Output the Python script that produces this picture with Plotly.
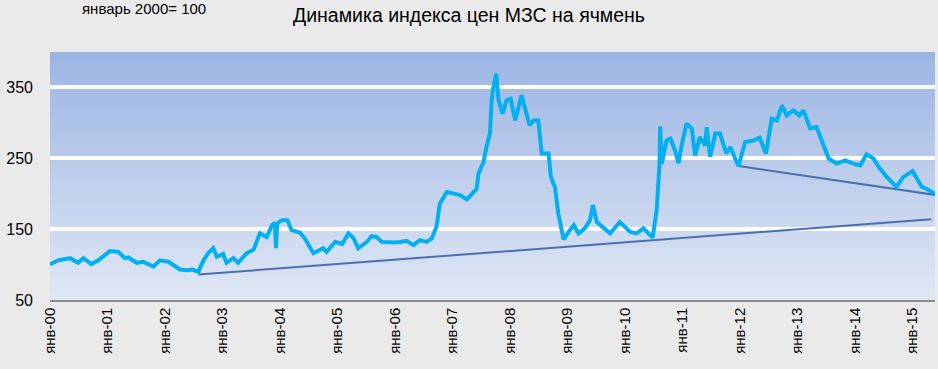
import plotly.graph_objects as go

# Price index (Jan 2000 = 100), time as decimal years
years = [2000.00, 2000.14, 2000.35, 2000.49, 2000.58, 2000.72, 2000.84, 2001.04, 2001.19, 2001.30,
         2001.36, 2001.51, 2001.62, 2001.80, 2001.91, 2002.06, 2002.26, 2002.38, 2002.47, 2002.58,
         2002.67, 2002.75, 2002.84, 2002.90, 2003.01, 2003.07, 2003.19, 2003.27, 2003.42, 2003.54,
         2003.65, 2003.77, 2003.86, 2003.91, 2003.93, 2003.95, 2004.03, 2004.13, 2004.20, 2004.35,
         2004.43, 2004.58, 2004.75, 2004.81, 2004.96, 2005.08, 2005.19, 2005.28, 2005.36, 2005.51,
         2005.59, 2005.68, 2005.77, 2005.97, 2006.09, 2006.20, 2006.32, 2006.43, 2006.55, 2006.64,
         2006.72, 2006.78, 2006.90, 2007.01, 2007.13, 2007.25, 2007.33, 2007.42, 2007.45, 2007.54,
         2007.59, 2007.65, 2007.68, 2007.71, 2007.76, 2007.80, 2007.87, 2007.94, 2008.01, 2008.09,
         2008.20, 2008.26, 2008.34, 2008.41, 2008.49, 2008.55, 2008.67, 2008.71, 2008.78, 2008.84,
         2008.93, 2009.04, 2009.11, 2009.19, 2009.30, 2009.39, 2009.44, 2009.51, 2009.62, 2009.74,
         2009.91, 2010.09, 2010.20, 2010.32, 2010.48, 2010.55, 2010.60, 2010.61, 2010.64, 2010.72,
         2010.79, 2010.87, 2010.93, 2010.99, 2011.07, 2011.16, 2011.22, 2011.30, 2011.39, 2011.42,
         2011.48, 2011.57, 2011.65, 2011.76, 2011.83, 2011.97, 2012.09, 2012.23, 2012.34, 2012.45,
         2012.55, 2012.64, 2012.73, 2012.81, 2012.93, 2013.03, 2013.10, 2013.22, 2013.33, 2013.42,
         2013.54, 2013.68, 2013.83, 2013.97, 2014.09, 2014.20, 2014.32, 2014.41, 2014.55, 2014.72,
         2014.84, 2015.00, 2015.16, 2015.24, 2015.36, 2015.39]
index = [100, 106, 109, 102.5, 109, 100.7, 106, 119, 118, 109,
         110, 102.5, 104, 97, 106, 104, 93, 92, 93, 90,
         106, 116, 123, 111, 115, 102.5, 109, 102.5, 116, 121,
         144, 139, 155.6, 159, 123, 158, 162.7, 162.7, 148.6, 145,
         137, 116, 123, 118, 132, 129, 144, 137, 123, 132,
         140, 139, 132, 131, 132, 133.6, 127.5, 134.5, 132, 137,
         153, 186, 202.5, 201, 198, 192, 199, 207, 228, 245,
         266, 285, 332, 350, 369, 332, 313, 332, 334, 303.5,
         339, 320, 296.5, 303.5, 303.5, 256.6, 256.6, 223.7, 209.6, 172,
         135.5, 148.6, 155.6, 144, 151, 162.7, 184, 160, 153, 144,
         160, 146, 144, 151, 138, 177, 242.5, 295, 242.5, 275,
         278, 261, 243, 270.7, 299, 292, 254, 280, 268, 294,
         252, 285, 285, 257, 266, 239, 273, 275, 279, 256.6,
         306, 303.5, 324.6, 310.6, 317.6, 310.6, 317.6, 292, 294, 275,
         249.6, 242.5, 247, 242.5, 240, 255.6, 249.6, 237.8, 223.7, 209.6,
         223.7, 232, 209.6, 207, 202.5, 200]

# Trend lines (endpoints)
trend1_years = [2002.58, 2015.33]
trend1_values = [86, 164]
trend2_years = [2011.97, 2015.42]
trend2_values = [239, 198]

tick_years = list(range(2000, 2016))
tick_labels = ["янв-%02d" % (y % 100) for y in tick_years]
y_ticks = [50, 150, 250, 350]

fig = go.Figure()
fig.add_trace(go.Scatter(x=trend1_years, y=trend1_values, mode="lines",
                         line=dict(color="#4A70B2", width=2), hoverinfo="skip"))
fig.add_trace(go.Scatter(x=trend2_years, y=trend2_values, mode="lines",
                         line=dict(color="#4A70B2", width=2), hoverinfo="skip"))
fig.add_trace(go.Scatter(x=years, y=index, mode="lines",
                         line=dict(color="#00B0F0", width=4)))

# vertical gradient background of plot area
top = (155, 181, 227)
bot = (224, 231, 245)
N = 60
shapes = []
for i in range(N):
    t = i / (N - 1)
    c = tuple(round(bot[k] + (top[k] - bot[k]) * t) for k in range(3))
    shapes.append(dict(type="rect", xref="x domain", yref="y domain",
                       x0=0, x1=1, y0=i / N, y1=min(1.0, (i + 2) / N),
                       fillcolor="rgb(%d,%d,%d)" % c, line=dict(width=0), layer="below"))

fig.update_layout(
    width=938, height=369,
    margin=dict(l=50, r=3, t=52, b=69),
    paper_bgcolor="#EAEAEA",
    plot_bgcolor="rgba(0,0,0,0)",
    showlegend=False,
    shapes=shapes,
    font=dict(family="Liberation Sans, Arial, sans-serif", color="#000000"),
    title=dict(text="Динамика индекса цен МЗС на ячмень", x=0.5, xanchor="center",
               y=1 - 15.5 / 369, yanchor="middle", font=dict(size=19.5, color="#000000")),
    annotations=[dict(text="январь 2000= 100", xref="paper", yref="paper",
                      x=(80 - 50) / 885, y=1.0, xanchor="left", yanchor="top",
                      showarrow=False, font=dict(size=15, color="#000000"),
                      yshift=54)],
    xaxis=dict(range=[2000, 2015.39], tickvals=tick_years, ticktext=tick_labels,
               tickangle=-90, showgrid=False, zeroline=False, showline=True,
               linecolor="#8C8C8C", linewidth=1.5, ticks="", automargin=False,
               tickfont=dict(size=15, color="#000000")),
    yaxis=dict(range=[50, 400], tickvals=y_ticks, showgrid=True, gridcolor="#FFFFFF",
               gridwidth=4, zeroline=False, showline=False, ticks="",
               ticklabelstandoff=16, automargin=False,
               tickfont=dict(size=16, color="#000000")),
)

fig.write_html("out.html", config={"displayModeBar": False},
               post_script="document.body.style.margin='0';")
